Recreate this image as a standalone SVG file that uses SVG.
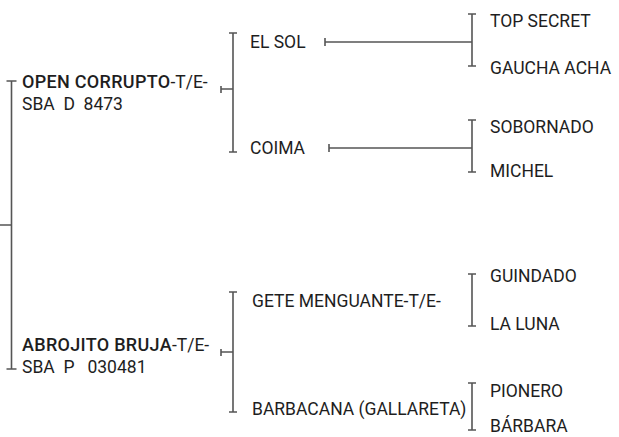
<svg xmlns="http://www.w3.org/2000/svg" width="619" height="437" viewBox="0 0 619 437">
<style>
text{font-family:Roboto,"Liberation Sans",sans-serif;font-size:17.5px;fill:#1e1e1e;}
.b{font-weight:500;font-size:18px;letter-spacing:0.3px;}
.ln{stroke:#555;stroke-width:1.6;fill:none;}
</style>
<rect width="619" height="437" fill="#fff"/>
<g id="connectors" class="ln">
<path d="M11.5,81V369M6.5,81H16.5M6.5,369H16.5M0,225H11.5"/>
<path d="M233,33V152M229,33H237M229,152H237M221,89H233M221,86V93"/>
<path d="M233,292V412M229,292H237M229,412H237M221,352H233M221,349V356"/>
<path d="M472,14V66M468,14H476M468,66H476M325,42H472M325,38V46"/>
<path d="M472,120V172M468,120H476M468,172H476M329,148H472M329,144V152"/>
<path d="M472,274V326M468,274H476M468,326H476"/>
<path d="M472,383V430M468,383H476M468,430H476"/>
</g>
<g id="n-open"><text x="22" y="88" xml:space="preserve"><tspan class="b">OPEN CORRUPTO</tspan>-T/E-</text><text x="22" y="110" xml:space="preserve">SBA  D  8473</text></g>
<g id="n-abrojito"><text x="22" y="351" xml:space="preserve"><tspan class="b">ABROJITO BRUJA</tspan>-T/E-</text><text x="22" y="373" xml:space="preserve">SBA  P   030481</text></g>
<g id="n-elsol"><text x="250" y="48">EL SOL</text></g>
<g id="n-coima"><text x="250" y="154">COIMA</text></g>
<g id="n-gete"><text x="252" y="307">GETE MENGUANTE-T/E-</text></g>
<g id="n-barbacana"><text x="252" y="415">BARBACANA (GALLARETA)</text></g>
<g id="n-topsecret"><text x="490" y="27">TOP SECRET</text></g>
<g id="n-gaucha"><text x="490" y="74">GAUCHA ACHA</text></g>
<g id="n-sobornado"><text x="490" y="133">SOBORNADO</text></g>
<g id="n-michel"><text x="490" y="177">MICHEL</text></g>
<g id="n-guindado"><text x="490" y="282">GUINDADO</text></g>
<g id="n-laluna"><text x="490" y="330">LA LUNA</text></g>
<g id="n-pionero"><text x="490" y="397">PIONERO</text></g>
<g id="n-barbara"><text x="490" y="432">BÁRBARA</text></g>
</svg>
